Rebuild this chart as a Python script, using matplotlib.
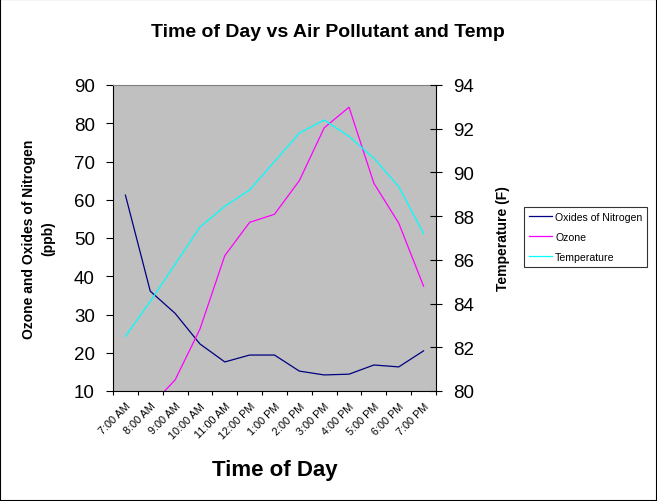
import matplotlib
matplotlib.use("Agg")
import matplotlib.pyplot as plt
from matplotlib.patches import Rectangle
from matplotlib.ticker import FixedLocator, MultipleLocator

plt.rcParams["font.family"] = ["Liberation Sans", "DejaVu Sans"]

# ── Data ────────────────────────────────────────────────────────────
hours = [
    "7:00 AM", "8:00 AM", "9:00 AM", "10:00 AM", "11:00 AM", "12:00 PM",
    "1:00 PM", "2:00 PM", "3:00 PM", "4:00 PM", "5:00 PM", "6:00 PM", "7:00 PM",
]
nox = [61.2, 36.1, 30.3, 22.3, 17.6, 19.4, 19.4, 15.2, 14.2, 14.4, 16.8, 16.3, 20.5]
ozone = [4.0, 6.0, 12.9, 26.2, 45.4, 54.1, 56.2, 65.0, 78.8, 84.2, 64.3, 53.9, 37.4]
temperature = [82.5, 84.1, 85.8, 87.5, 88.45, 89.2, 90.5, 91.8, 92.4, 91.65, 90.65, 89.35, 87.2]

W, H = 657, 502


def fx(px):
    return px / W


def fy(py):
    return 1 - py / H


fig = plt.figure(figsize=(W / 100, H / 100), dpi=100)
fig.patch.set_facecolor("white")
fig.patches.append(Rectangle((0, 0), 1, 1, transform=fig.transFigure,
                             fill=False, edgecolor="black", linewidth=1.5))

left, right, top, bottom = 113, 436, 86, 392
ax = fig.add_axes([fx(left), fy(bottom), fx(right) - fx(left), fy(top) - fy(bottom)])
ax.set_facecolor("#C0C0C0")

x = list(range(len(hours)))
l1, = ax.plot(x, nox, color="#000080", linewidth=0.9, label="Oxides of Nitrogen")
l2, = ax.plot(x, ozone, color="#FF00FF", linewidth=0.9, label="Ozone")

ax.set_xlim(-0.5, len(hours) - 0.5)
ax.set_ylim(10, 90)
ax.yaxis.set_major_locator(MultipleLocator(10))

# category boundaries get tick marks, centres get the labels
ax.xaxis.set_major_locator(FixedLocator([i - 0.5 for i in range(len(hours) + 1)]))
ax.xaxis.set_minor_locator(FixedLocator(x))
ax.set_xticklabels([], minor=False)
ax.set_xticklabels(hours, minor=True, rotation=45, ha="right", va="top",
                   rotation_mode="anchor", fontsize=7.8)
ax.tick_params(axis="x", which="major", direction="out", length=3, width=0.8)
ax.tick_params(axis="x", which="minor", length=0, pad=7)
ax.tick_params(axis="y", direction="out", length=5, width=0.8, pad=8, labelsize=13.5)

for side in ("left", "bottom"):
    ax.spines[side].set_color("black")
    ax.spines[side].set_linewidth(0.8)
ax.spines["top"].set_color("#808080")
ax.spines["top"].set_linewidth(0.8)
ax.spines["right"].set_visible(False)

# ── Secondary axis: temperature ─────────────────────────────────────
ax2 = ax.twinx()
l3, = ax2.plot(x, temperature, color="#00FFFF", linewidth=0.9, label="Temperature")
ax2.set_ylim(80, 94)
ax2.yaxis.set_major_locator(MultipleLocator(2))
ax2.tick_params(axis="y", direction="inout", length=8.5, width=0.8, pad=8, labelsize=13.5)
for side in ("left", "top", "bottom"):
    ax2.spines[side].set_visible(False)
ax2.spines["right"].set_color("black")
ax2.spines["right"].set_linewidth(0.8)

# ── Text ────────────────────────────────────────────────────────────
fig.text(fx(328), fy(37), "Time of Day vs Air Pollutant and Temp",
         ha="center", va="baseline", fontsize=14, fontweight="bold")
fig.text(fx(275), fy(476), "Time of Day",
         ha="center", va="baseline", fontsize=16, fontweight="bold")
fig.text(fx(39), fy(239), "Ozone and Oxides of Nitrogen\n(ppb)",
         ha="center", va="center", rotation=90, multialignment="center",
         linespacing=1.5, fontsize=10, fontweight="bold")
fig.text(fx(503), fy(238.5), "Temperature (F)",
         ha="center", va="center", rotation=90, fontsize=10, fontweight="bold")

leg = fig.legend(handles=[l1, l2, l3], loc="upper left",
                 bbox_to_anchor=(fx(524), fy(208)), borderaxespad=0,
                 fontsize=7.6, frameon=True, fancybox=False, edgecolor="black",
                 handlelength=2.2, handletextpad=0.3, labelspacing=0.95,
                 borderpad=0.45)
leg.get_frame().set_linewidth(0.8)

fig.savefig("out.png", dpi=100)
